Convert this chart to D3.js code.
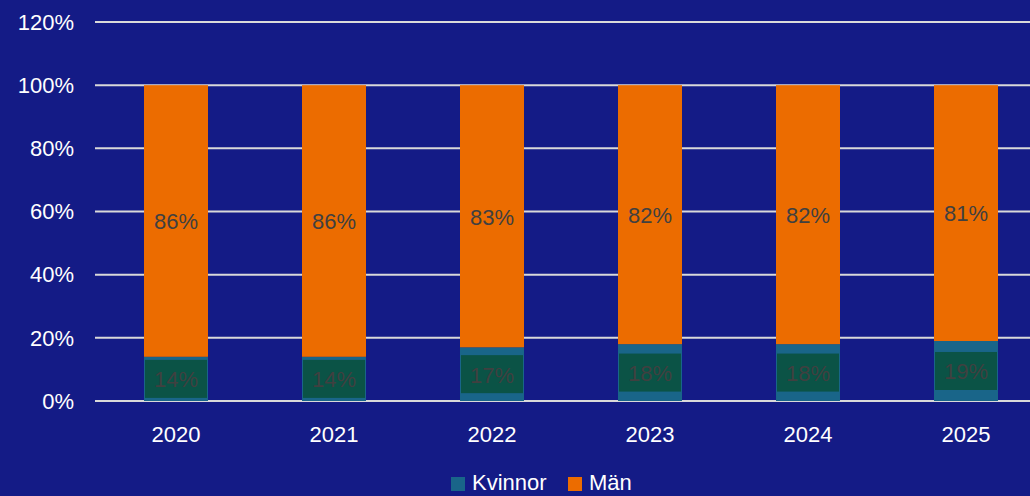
<!DOCTYPE html>
<html>
<head>
<meta charset="utf-8">
<script src="https://cdn.jsdelivr.net/npm/d3@7"></script>
<style>
  body { margin: 0; background: #141b86; overflow: hidden; }
  text { font-family: "Liberation Sans", Arial, sans-serif; }
</style>
</head>
<body>
<div id="chart"></div>
<script>
// Data
const years = ["2020", "2021", "2022", "2023", "2024", "2025"];
const kvinnor = [14, 14, 17, 18, 18, 19];
const man = [86, 86, 83, 82, 82, 81];
const yTicks = [0, 20, 40, 60, 80, 100, 120];

const width = 1030, height = 496;
const fontSize = 22;
const colors = { Kvinnor: "#196589", "Män": "#ec6c00" };

const svg = d3.select("#chart")
    .append("svg")
    .attr("width", width)
    .attr("height", height);

svg.append("rect")
    .attr("width", width)
    .attr("height", height)
    .attr("fill", "#141b86");

// Scales
const x = d3.scaleBand()
    .domain(years)
    .range([97, 1045])
    .paddingInner(0.595)
    .paddingOuter(0.2975);

const y = d3.scaleLinear()
    .domain([0, 120])
    .range([401, 22]);

// Gridlines + y labels
svg.append("g")
    .selectAll("line")
    .data(yTicks)
    .join("line")
    .attr("x1", 95)
    .attr("x2", 1045)
    .attr("y1", d => y(d))
    .attr("y2", d => y(d))
    .attr("stroke", "#d9d9d9")
    .attr("stroke-width", 2);

svg.append("g")
    .selectAll("text")
    .data(yTicks)
    .join("text")
    .attr("x", 74)
    .attr("y", d => y(d))
    .attr("dy", "0.35em")
    .attr("text-anchor", "end")
    .attr("fill", "#ffffff")
    .attr("font-size", fontSize)
    .text(d => d + "%");

// Stack
const rows = years.map((yr, i) => ({ year: yr, Kvinnor: kvinnor[i], "Män": man[i] }));
const stacked = d3.stack().keys(["Kvinnor", "Män"])(rows);

const layers = svg.append("g")
    .selectAll("g")
    .data(stacked)
    .join("g")
    .attr("fill", d => colors[d.key]);

layers.selectAll("rect")
    .data(d => d)
    .join("rect")
    .attr("x", d => x(d.data.year))
    .attr("width", x.bandwidth())
    .attr("y", d => y(d[1]))
    .attr("height", d => y(d[0]) - y(d[1]));

// Label boxes for Kvinnor
const kv = stacked[0];
svg.append("g")
    .selectAll("rect")
    .data(kv)
    .join("rect")
    .attr("x", d => x(d.data.year) + x.bandwidth() / 2 - 31)
    .attr("width", 62)
    .attr("y", d => y((d[0] + d[1]) / 2) - 19)
    .attr("height", 38)
    .attr("fill", "#0b5346");

// Data labels
stacked.forEach(layer => {
    svg.append("g")
        .selectAll("text")
        .data(layer)
        .join("text")
        .attr("x", d => x(d.data.year) + x.bandwidth() / 2)
        .attr("y", d => y((d[0] + d[1]) / 2))
        .attr("dy", "0.38em")
        .attr("text-anchor", "middle")
        .attr("fill", "#404040")
        .attr("font-size", fontSize)
        .text(d => (d[1] - d[0]) + "%");
});

// X labels
svg.append("g")
    .selectAll("text")
    .data(years)
    .join("text")
    .attr("x", d => x(d) + x.bandwidth() / 2)
    .attr("y", 434)
    .attr("dy", "0.35em")
    .attr("text-anchor", "middle")
    .attr("fill", "#ffffff")
    .attr("font-size", fontSize)
    .text(d => d);

// Legend
const legend = svg.append("g");
const legendItems = [
    { key: "Kvinnor", x: 451 },
    { key: "Män", x: 568 }
];
legend.selectAll("rect")
    .data(legendItems)
    .join("rect")
    .attr("x", d => d.x)
    .attr("y", 477)
    .attr("width", 14)
    .attr("height", 14)
    .attr("fill", d => colors[d.key]);
legend.selectAll("text")
    .data(legendItems)
    .join("text")
    .attr("x", d => d.x + 21)
    .attr("y", 490)
    .attr("fill", "#ffffff")
    .attr("font-size", fontSize)
    .text(d => d.key);
</script>
</body>
</html>
